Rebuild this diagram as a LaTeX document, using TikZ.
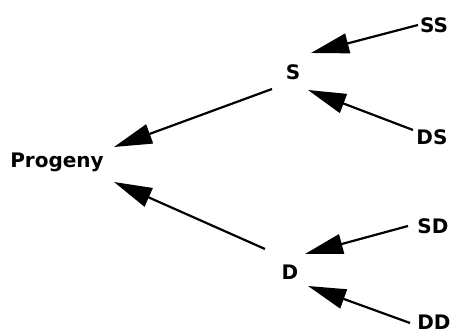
\documentclass[tikz,border=0pt]{standalone}
\usepackage{fontspec}
\setmainfont{DejaVu Sans}
\usetikzlibrary{arrows.meta,calc}
\begin{document}
\begin{tikzpicture}[x=1pt,y=1pt,
  lbl/.style={font=\fontsize{20}{20}\selectfont\bfseries, inner sep=0pt},
  arr/.style={line width=2.2pt, -{Triangle[length=38pt,width=20pt]}}]
\useasboundingbox (0,0) rectangle (451,334);
\node[lbl] (SS) at (434,309) {SS};
\node[lbl] (S) at (293,262) {S};
\node[lbl] (DS) at (432,197) {DS};
\node[lbl] (P) at (57,172) {Progeny};
\node[lbl] (SD) at (433,108) {SD};
\node[lbl] (D) at (290,62) {D};
\node[lbl] (DD) at (434,12) {DD};
\draw[arr] ($(SS)+(-16,0)$) -- ($(S)+(18,19)$);
\draw[arr] ($(DS)+(-19,7)$) -- ($(S)+(15,-18)$);
\draw[arr] ($(S)+(-21,-17)$) -- ($(P)+(57,15)$);
\draw[arr] ($(D)+(-25,23)$) -- ($(P)+(57,-20)$);
\draw[arr] ($(SD)+(-25,0)$) -- ($(D)+(15,18)$);
\draw[arr] ($(DD)+(-24,-1)$) -- ($(D)+(18,-14)$);
\end{tikzpicture}
\end{document}
